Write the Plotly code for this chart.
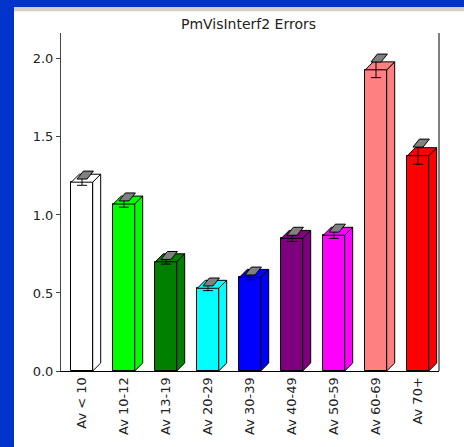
import plotly.graph_objects as go

categories = ["Av < 10", "Av 10-12", "Av 13-19", "Av 20-29", "Av 30-39",
              "Av 40-49", "Av 50-59", "Av 60-69", "Av 70+"]
values = [1.21, 1.07, 0.70, 0.53, 0.60, 0.85, 0.87, 1.93, 1.38]
errors = [0.02, 0.02, 0.015, 0.015, 0.015, 0.02, 0.02, 0.05, 0.055]
colors = ["#FFFFFF", "#00FF00", "#007F00", "#00FFFF", "#0000FF",
          "#7F007F", "#FF00FF", "#FF8080", "#FF0000"]
y_ticks = [0.0, 0.5, 1.0, 1.5, 2.0]

# style parameters (3D look)
HW = 0.255      # half width of front face (category units)
DX = 0.19       # depth offset x (category units)
DY = 0.051      # depth offset y (value units)
CW = 0.12       # half width of error cap
YMAX = 2.166

xs = list(range(len(categories)))
fig = go.Figure()

# front faces
fig.add_trace(go.Bar(x=xs, y=values, width=2 * HW, marker_color=colors,
                     marker_line=dict(color="black", width=1),
                     hoverinfo="skip", showlegend=False))

# side and top faces
for x, v, c in zip(xs, values, colors):
    xl, xr = x - HW, x + HW
    fig.add_trace(go.Scatter(
        x=[xr, xr, xr + DX, xr + DX, xr], y=[0, v, v + DY, DY, 0],
        mode="lines", fill="toself", fillcolor=c,
        line=dict(color="black", width=1), hoverinfo="skip", showlegend=False))
    fig.add_trace(go.Scatter(
        x=[xl, xr, xr + DX, xl + DX, xl], y=[v, v, v + DY, v + DY, v],
        mode="lines", fill="toself", fillcolor=c,
        line=dict(color="black", width=1), hoverinfo="skip", showlegend=False))

# error bars
ex, ey = [], []
for x, v, e in zip(xs, values, errors):
    ex += [x, x, None, x - CW, x + CW, None]
    ey += [v - e, v + e, None, v - e, v - e, None]
fig.add_trace(go.Scatter(x=ex, y=ey, mode="lines",
                         line=dict(color="black", width=1),
                         hoverinfo="skip", showlegend=False))
for x, v, e in zip(xs, values, errors):
    t = v + e
    fig.add_trace(go.Scatter(
        x=[x - CW, x + CW, x + CW + DX * 0.8, x - CW + DX * 0.8, x - CW],
        y=[t, t, t + DY, t + DY, t],
        mode="lines", fill="toself", fillcolor="#808080",
        line=dict(color="black", width=1), hoverinfo="skip", showlegend=False))

L, R, T, B = 61, 25, 33, 74
W, H = 464, 447
pw, ph = W - L - R, H - T - B

def px_x(p):
    return (p - L) / pw

def px_y(p):
    return (H - B - p) / ph

fig.update_layout(
    width=W, height=H, autosize=False,
    margin=dict(l=L, r=R, t=T, b=B, pad=0),
    paper_bgcolor="#0033CC", plot_bgcolor="white",
    font=dict(family="DejaVu Sans", size=13, color="black"),
    title=dict(text="PmVisInterf2 Errors", x=px_x(248.5), xref="paper",
               xanchor="center", y=1 - 24 / H, yanchor="middle",
               font=dict(family="DejaVu Sans", size=14, color="#222")),
    bargap=0,
    shapes=[
        dict(type="rect", xref="paper", yref="paper", layer="below",
             x0=px_x(14), x1=px_x(W + 20), y0=px_y(H + 20), y1=px_y(7),
             fillcolor="white", line=dict(width=0)),
        dict(type="rect", xref="paper", yref="paper", layer="below",
             x0=px_x(14), x1=px_x(W + 20), y0=px_y(11), y1=px_y(7),
             fillcolor="#D4D0C8", line=dict(width=0)),
        dict(type="line", xref="paper", yref="paper",
             x0=1, x1=1, y0=0, y1=1, line=dict(color="black", width=1)),
    ],
    xaxis=dict(range=[-0.5, len(categories) - 0.5], tickmode="array",
               tickvals=xs, ticktext=categories, tickangle=-90,
               showgrid=False, zeroline=False, showline=True,
               linecolor="black", linewidth=1, ticks="",
               tickfont=dict(family="DejaVu Sans", size=13, color="#222")),
    yaxis=dict(range=[0, YMAX], tickmode="array", tickvals=y_ticks,
               ticktext=[f"{t:.1f}" for t in y_ticks],
               showgrid=False, zeroline=False, showline=True,
               linecolor="#444", linewidth=1, ticks="outside", ticklen=4,
               tickcolor="#444",
               tickfont=dict(family="DejaVu Sans", size=13, color="#222")),
)

fig.write_html("out.html", config={"displayModeBar": False},
               post_script="document.body.style.margin='0';"
                           "document.body.style.overflow='hidden';")
